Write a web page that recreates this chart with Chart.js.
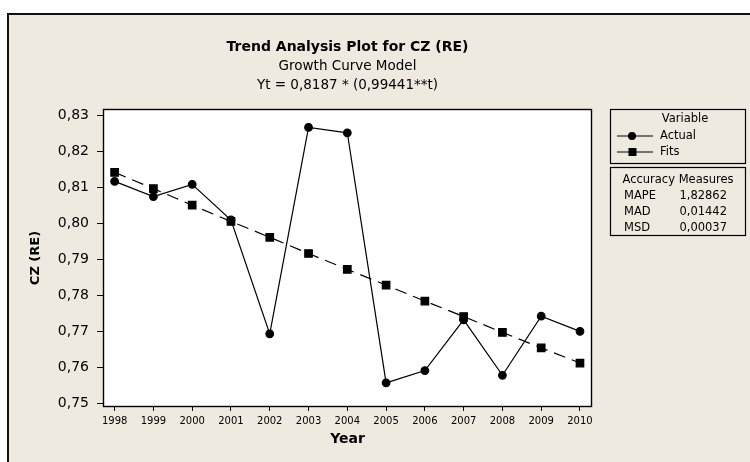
<!DOCTYPE html>
<html>
<head>
<meta charset="utf-8">
<script src="https://cdn.jsdelivr.net/npm/chart.js@4.4.1/dist/chart.umd.min.js"></script>
<style>
  body { margin: 0; background: #ffffff; }
  canvas { display: block; }
</style>
</head>
<body>
<canvas id="trendChart" width="750" height="462"></canvas>
<script>
// Values
const years = [1998, 1999, 2000, 2001, 2002, 2003, 2004, 2005, 2006, 2007, 2008, 2009, 2010];
const actual = [0.8116, 0.8074, 0.8108, 0.8009, 0.7693, 0.8266, 0.8251, 0.7557, 0.7591, 0.7732, 0.7578, 0.7742, 0.7700];
const fits = [0.8141, 0.8096, 0.8050, 0.8005, 0.7961, 0.7916, 0.7872, 0.7828, 0.7784, 0.7741, 0.7697, 0.7654, 0.7612];
const yTicks = [0.75, 0.76, 0.77, 0.78, 0.79, 0.80, 0.81, 0.82, 0.83];
const titleLines = ["Trend Analysis Plot for CZ (RE)", "Growth Curve Model", "Yt = 0,8187 * (0,99441**t)"];
const accuracyLabels = ["MAPE", "MAD", "MSD"];
const accuracyValues = ["1,82862", "0,01442", "0,00037"];

const FONT = "'DejaVu Sans', Verdana, sans-serif";
const BEIGE = "#EEEAE0";

// background frame, titles and the two boxes on the right
const minitabDecor = {
  id: "minitabDecor",
  beforeDraw(chart) {
    const { ctx, chartArea: a, width, height } = chart;
    ctx.save();
    ctx.fillStyle = "#ffffff";
    ctx.fillRect(0, 0, width, height);
    ctx.fillStyle = BEIGE;
    ctx.fillRect(7, 13, width - 7, height - 13);
    ctx.fillStyle = "#111";
    ctx.fillRect(7, 13, width - 7, 2);
    ctx.fillRect(7, 13, 2, height - 13);
    ctx.fillStyle = "#ffffff";
    ctx.fillRect(a.left, a.top, a.right - a.left, a.bottom - a.top);
    ctx.restore();
  },
  afterDraw(chart) {
    const { ctx, chartArea: a } = chart;
    ctx.save();
    ctx.strokeStyle = "#000";
    ctx.lineWidth = 1.4;
    ctx.strokeRect(a.left + 0.5, a.top + 0.5, a.right - a.left - 1, a.bottom - a.top - 1);

    // titles
    const cx = (a.left + a.right) / 2;
    ctx.fillStyle = "#000";
    ctx.textAlign = "center";
    ctx.textBaseline = "middle";
    ctx.font = "bold 14px " + FONT;
    ctx.fillText(titleLines[0], cx, 47);
    ctx.font = "13.5px " + FONT;
    ctx.fillText(titleLines[1], cx, 66);
    ctx.fillText(titleLines[2], cx, 85);

    // legend box
    ctx.lineWidth = 1.2;
    ctx.strokeStyle = "#000";
    ctx.strokeRect(610.5, 109.5, 135, 54);
    ctx.font = "11.5px " + FONT;
    ctx.fillText("Variable", 685, 119);
    const rows = [136, 152];
    chart.data.datasets.forEach((ds, i) => {
      const y = rows[i];
      ctx.beginPath();
      ctx.moveTo(617, y);
      ctx.lineTo(653, y);
      ctx.setLineDash([]);
      ctx.lineWidth = 1.2;
      ctx.stroke();
      ctx.fillStyle = "#000";
      if (ds.pointStyle === "rect") {
        ctx.fillRect(628.5, y - 4, 8, 8);
      } else {
        ctx.beginPath();
        ctx.arc(632, y, 4, 0, Math.PI * 2);
        ctx.fill();
      }
      ctx.textAlign = "left";
      ctx.fillText(ds.label, 660, y);
    });

    // accuracy measures box
    ctx.strokeRect(610.5, 167.5, 135, 68);
    ctx.textAlign = "center";
    ctx.fillText("Accuracy Measures", 678, 180);
    accuracyLabels.forEach((lab, i) => {
      const y = 196 + i * 16;
      ctx.textAlign = "left";
      ctx.fillText(lab, 624, y);
      ctx.textAlign = "right";
      ctx.fillText(accuracyValues[i], 727, y);
    });
    ctx.restore();
  }
};

new Chart(document.getElementById("trendChart"), {
  type: "line",
  data: {
    datasets: [
      {
        label: "Actual",
        data: years.map((yr, i) => ({ x: yr, y: actual[i] })),
        borderColor: "#000",
        backgroundColor: "#000",
        borderWidth: 1.2,
        pointStyle: "circle",
        pointRadius: 3.8,
        tension: 0
      },
      {
        label: "Fits",
        data: years.map((yr, i) => ({ x: yr, y: fits[i] })),
        borderColor: "#000",
        backgroundColor: "#000",
        borderWidth: 1.2,
        borderDash: [12, 7],
        pointStyle: "rect",
        pointRadius: 5.3,
        tension: 0
      }
    ]
  },
  options: {
    responsive: false,
    animation: false,
    layout: { padding: { left: 0, top: 109, right: 158, bottom: 0 } },
    plugins: {
      legend: { display: false },
      tooltip: { enabled: false }
    },
    scales: {
      x: {
        type: "linear",
        min: 1997.7,
        max: 2010.31,
        afterBuildTicks: s => { s.ticks = years.map(v => ({ value: v })); },
        afterFit: s => { s.height = 55; },
        grid: { drawOnChartArea: false, tickLength: 4, color: "#000" },
        border: { display: false },
        ticks: {
          color: "#000",
          font: { family: FONT, size: 10 },
          padding: 4,
          maxRotation: 0,
          callback: v => String(v)
        },
        title: {
          display: true,
          text: "Year",
          color: "#000",
          font: { family: FONT, size: 14, weight: "bold" },
          padding: { top: 0, bottom: 14 }
        }
      },
      y: {
        min: 0.7490,
        max: 0.8317,
        afterBuildTicks: s => { s.ticks = yTicks.map(v => ({ value: v })); },
        afterFit: s => { s.width = 103; },
        grid: { drawOnChartArea: false, tickLength: 6, color: "#000" },
        border: { display: false },
        ticks: {
          color: "#000",
          font: { family: FONT, size: 14 },
          padding: 8,
          callback: v => v.toFixed(2).replace(".", ",")
        },
        title: {
          display: true,
          text: "CZ (RE)",
          color: "#000",
          font: { family: FONT, size: 13, weight: "bold" },
          padding: { top: 28, bottom: 0 }
        }
      }
    }
  },
  plugins: [minitabDecor]
});
</script>
</body>
</html>
